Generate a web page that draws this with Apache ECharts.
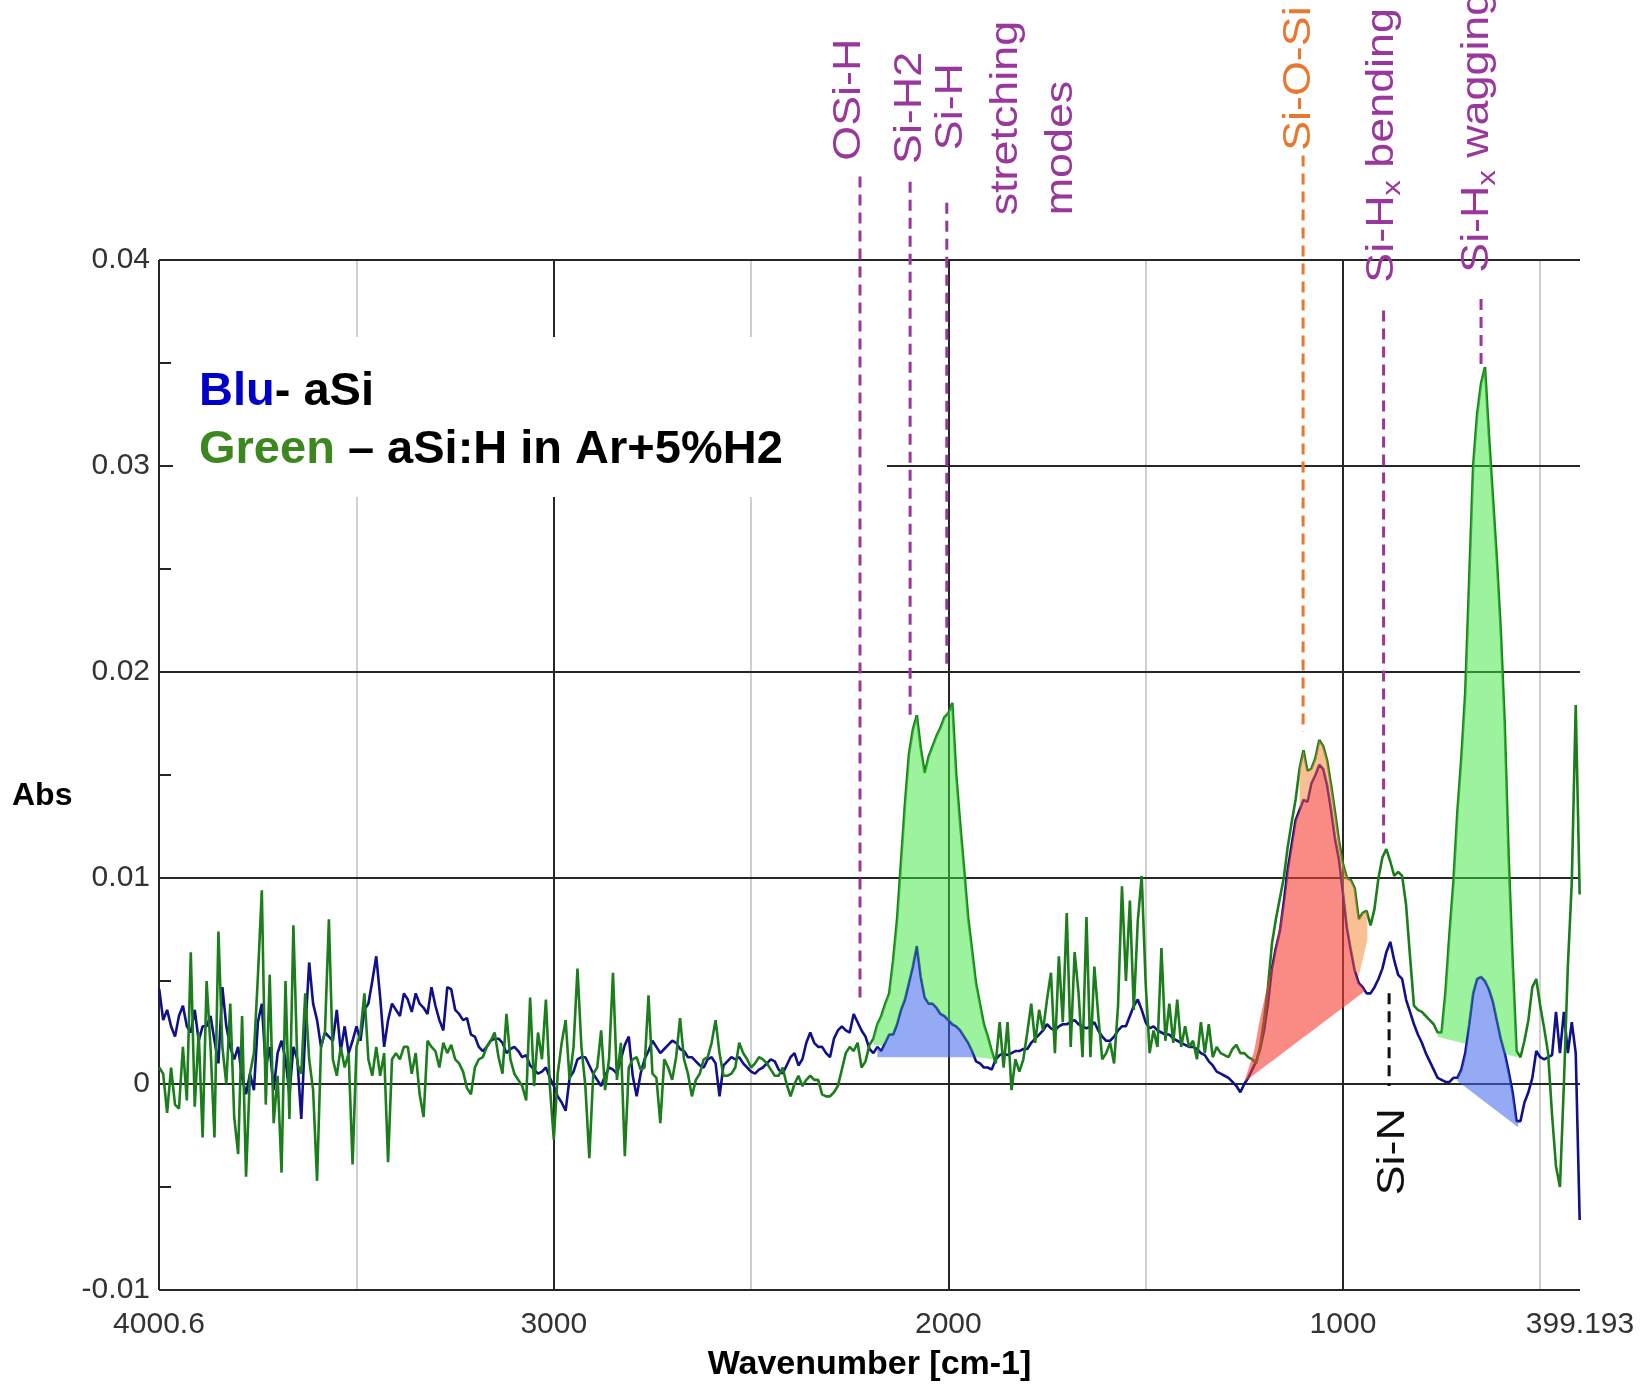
<!DOCTYPE html>
<html>
<head>
<meta charset="utf-8">
<script src="https://cdn.jsdelivr.net/npm/echarts@6/dist/echarts.min.js"></script>
<style>
  html, body { margin: 0; padding: 0; background: #fff; }
  #chart { width: 1640px; height: 1390px; }
</style>
</head>
<body>
<div id="chart"></div>
<script>
// FTIR absorbance spectra, sampled every 10 cm-1 from 4000 down to 400 cm-1.
// Values are in mAbs (1e-3 Abs).
const wnStart = 4000;
const wnStep = 10;

// aSi (blue trace)
const absBlue = [
  4.6, 3.1, 3.6, 2.8, 2.3, 3.3, 3.8, 2.8, 2.5, 3.6,
  2.1, 2.8, 2.8, 3.3, 2.1, 1.0, 4.7, 2.8, 1.8, 1.2,
  1.8, 0.3, -0.5, 0.5, -0.3, 3.0, 3.9, 0.8, 1.8, -0.3,
  1.5, 2.1, 1.2, -0.5, 1.8, 1.2, -1.7, 2.5, 5.9, 3.9,
  3.1, 1.8, 2.5, 2.3, 2.1, 3.6, 1.6, 2.8, 1.5, 2.1,
  2.8, 2.1, 3.6, 3.9, 5.0, 6.2, 4.2, 1.8, 3.1, 3.9,
  3.6, 3.3, 4.4, 4.1, 3.5, 4.4, 3.9, 3.7, 3.4, 4.7,
  3.8, 3.1, 2.6, 4.7, 4.6, 3.6, 3.4, 3.1, 3.2, 2.4,
  2.3, 1.8, 1.6, 1.8, 2.1, 2.2, 2.2, 2.0, 1.5, 1.7,
  1.8, 1.6, 1.3, 1.4, 0.9, 0.7, 0.5, 0.6, 0.8, 0.3,
  -0.1, -0.6, -0.9, -1.3, 0.3, 0.6, 1.2, 1.3, 1.3, 0.9,
  0.5, 0.2, -0.1, 0.4, 0.8, 0.7, 0.5, 1.2, 1.9, 2.3,
  0.4, -0.6, 0.5, 1.2, 1.6, 2.1, 1.8, 1.5, 1.7, 1.9,
  2.1, 2.0, 1.7, 1.6, 1.3, 1.3, 1.1, 0.9, 0.8, 1.2,
  1.3, 1.0, -0.6, 0.9, 1.1, 1.3, 1.2, 1.3, 1.0, 0.8,
  0.6, 0.5, 0.7, 0.8, 1.0, 1.2, 1.1, 0.7, 0.5, 0.9,
  1.3, 1.5, 0.9, 1.2, 2.0, 2.5, 2.0, 1.8, 1.8, 1.5,
  1.3, 2.2, 2.6, 2.8, 2.6, 2.5, 3.4, 3.0, 2.6, 2.3,
  1.7, 1.5, 1.8, 1.6, 2.0, 2.4, 2.4, 2.9, 3.6, 4.1,
  4.9, 5.7, 6.7, 5.2, 4.2, 3.9, 3.9, 3.7, 3.4, 3.3,
  3.1, 2.9, 2.8, 2.6, 2.3, 2.0, 1.6, 1.1, 1.0, 0.8,
  0.8, 0.7, 1.2, 1.4, 1.5, 1.4, 1.5, 1.6, 1.6, 1.7,
  1.7, 2.0, 2.2, 2.4, 2.6, 2.9, 2.7, 2.6, 2.8, 2.9,
  2.9, 3.0, 3.1, 2.9, 2.8, 2.7, 2.8, 3.0, 2.6, 2.3,
  2.1, 2.1, 2.3, 2.6, 2.8, 2.8, 3.3, 3.8, 4.1, 3.6,
  3.0, 2.7, 2.8, 2.6, 2.5, 2.4, 2.4, 2.2, 2.1, 2.0,
  1.9, 1.8, 1.8, 1.7, 1.5, 1.4, 1.1, 0.9, 0.6, 0.5,
  0.4, 0.3, 0.1, -0.1, -0.4, 0.0, 0.3, 0.7, 1.1, 1.7,
  2.6, 3.9, 5.6, 6.6, 7.4, 8.8, 10.4, 11.6, 12.8, 13.3,
  13.8, 13.7, 14.6, 15.0, 15.5, 15.3, 14.5, 13.3, 11.9, 10.9,
  9.3, 7.6, 6.5, 5.5, 4.9, 4.7, 4.4, 4.4, 4.7, 5.1,
  5.6, 6.4, 6.9, 6.0, 5.3, 5.1, 4.1, 3.5, 2.9, 2.4,
  2.0, 1.5, 1.1, 0.7, 0.3, 0.2, 0.1, 0.1, 0.3, 0.3,
  0.7, 1.5, 2.9, 4.4, 5.1, 5.2, 5.0, 4.6, 4.0, 3.1,
  2.2, 1.5, 0.6, -0.4, -1.8, -1.8, -0.9, -0.4, 0.3, 1.6,
  1.3, 1.2, 1.3, 1.4, 3.5, 1.5, 3.5, 1.5, 3.0, 1.5,
  -6.6
];

// aSi:H in Ar+5%H2 (green trace)
const absGreen = [
  0.8, 0.5, -1.4, 0.8, -1.0, -1.2, 1.8, -0.8, 6.4, -1.1,
  2.5, -2.6, 5.0, 1.8, -2.6, 7.4, 1.8, 0.0, 3.9, -1.6,
  -3.4, 3.3, -4.5, 0.5, 1.5, 5.2, 9.4, -1.0, 5.3, -1.9,
  0.4, -4.3, 5.0, -1.7, 7.7, 1.0, 0.5, 4.4, 1.2, -0.3,
  -4.7, 1.8, 2.5, 8.0, 1.2, 0.4, 1.8, 0.8, 1.5, -3.9,
  1.8, 2.5, 4.4, 1.2, 0.4, 1.8, 0.4, 1.5, -3.8, 1.2,
  1.5, 1.2, 1.8, 1.8, 0.5, 1.5, -0.5, -1.6, 2.1, 1.8,
  1.6, 0.8, 2.0, 1.5, 1.9, 1.2, 1.0, 0.6, -0.2, -0.5,
  0.8, 1.2, 1.3, 1.8, 2.1, 2.5, 1.3, 0.5, 3.4, 1.2,
  0.5, 0.2, -0.1, -0.8, 4.2, -0.1, 2.5, 1.2, 4.1, -0.1,
  -2.7, 0.5, 2.0, 3.1, 0.2, 1.8, 5.6, 1.8, -0.1, -3.6,
  0.5, 0.8, 2.6, -0.3, 1.2, 5.4, 0.2, 2.0, -3.5, 0.8,
  1.2, 1.3, 0.7, 0.8, 4.3, 0.5, 0.3, -1.9, 1.2, 0.8,
  0.2, 1.3, 3.2, 1.2, 0.5, -0.6, 0.2, 0.5, 1.2, 1.3,
  2.0, 3.1, 1.5, 0.4, 0.4, 0.5, 0.8, 2.0, 1.5, 1.2,
  0.8, 1.0, 1.3, 1.2, 1.0, 0.7, 0.4, 0.4, 0.8, 0.0,
  -0.6, 0.0, 0.4, -0.1, 0.2, 0.4, 0.2, 0.2, -0.5, -0.6,
  -0.6, -0.4, -0.1, 0.7, 1.5, 1.8, 1.6, 2.0, 0.8, 1.1,
  1.9, 2.2, 2.9, 3.3, 3.9, 4.4, 6.0, 8.0, 10.8, 13.6,
  16.0, 17.2, 17.9, 16.3, 15.1, 15.9, 16.4, 16.9, 17.3, 17.8,
  18.0, 18.5, 15.0, 12.6, 10.4, 8.1, 6.5, 4.9, 3.9, 2.9,
  2.3, 1.6, 1.0, 3.0, 0.8, 3.0, -0.3, 1.2, 0.6, 1.2,
  2.5, 3.9, 2.0, 3.6, 2.6, 4.1, 5.4, 1.5, 6.2, 3.0,
  8.3, 1.8, 6.4, 4.4, 1.3, 8.1, 1.3, 5.7, 3.3, 1.2,
  1.5, 2.0, 1.0, 3.8, 9.6, 5.0, 8.9, 3.6, 7.9, 10.1,
  4.9, 1.5, 2.6, 1.8, 6.6, 2.1, 3.9, 2.0, 4.1, 1.8,
  2.8, 1.8, 2.1, 1.2, 3.0, 1.5, 2.9, 1.3, 1.8, 1.5,
  1.4, 1.3, 1.7, 1.9, 1.5, 1.5, 1.3, 1.2, 1.0, 1.8,
  3.1, 4.7, 6.8, 8.0, 9.0, 10.0, 11.5, 12.7, 13.8, 15.3,
  16.2, 15.2, 15.3, 15.8, 16.7, 16.4, 15.7, 14.5, 13.2, 11.8,
  10.7, 10.0, 9.9, 9.5, 8.0, 8.3, 8.4, 7.7, 8.5, 10.0,
  11.0, 11.4, 10.8, 10.1, 10.3, 10.1, 8.7, 6.2, 3.8, 3.6,
  3.5, 3.3, 3.1, 2.9, 2.5, 2.5, 4.5, 7.3, 9.8, 13.2,
  15.8, 19.0, 24.5, 30.0, 32.5, 34.0, 34.8, 31.5, 28.5, 25.5,
  22.0, 17.5, 11.0, 6.0, 1.6, 1.3, 2.1, 3.1, 4.7, 5.1,
  3.8, 2.7, 1.5, -1.5, -4.0, -5.0, 0.0, 5.7, 9.8, 18.4,
  9.2
];

// Axis extents and tick labels
const xRange = [399.193, 4000.6];
const xTickLabels = [4000.6, 3000, 2000, 1000, 399.193];
const yRange = [-0.01, 0.04];
const yStep = 0.005;
const gridMajorX = [3000, 2000, 1000];
const gridMinorX = [3500, 2500, 1500, 500];
const gridMajorY = [0, 0.01, 0.02, 0.03];
const gridMinorY = [-0.005, 0.005, 0.015, 0.025, 0.035];

// Integrated band areas (wavenumber limits, straight baselines in mAbs)
const FILL_GREEN = 'rgba(60,230,60,0.5)';
const FILL_BLUE = 'rgba(60,100,235,0.55)';
const FILL_RED = 'rgba(245,60,50,0.6)';
const FILL_ORANGE = 'rgba(245,140,60,0.55)';
const bands = [
  { top: 'green', from: 2190, to: 1885, floor: [[2190, 1.9], [1885, 1.2]], over: true, color: FILL_GREEN },
  { top: 'blue', from: 2180, to: 1932, floor: [[2180, 1.3], [1932, 1.3]], color: FILL_BLUE },
  { top: 'blue', from: 1250, to: 945, floor: [[1250, 0.1], [945, 4.5]],
    lead: [[1250, 0.1], [1225, 1.6], [1211, 3.1], [1177, 6.0], [1152, 8.6]], color: FILL_RED },
  { top: 'green', from: 1110, to: 938, floor: [[1000, 2.0], [938, 7.0]], over: true, color: FILL_ORANGE },
  { top: 'green', from: 760, to: 558, floor: [[760, 2.3], [558, 1.3]], over: true, color: FILL_GREEN },
  { top: 'blue', from: 710, to: 556, floor: [[710, 0.15], [556, -2.1]], color: FILL_BLUE }
];

// Peak-assignment marker lines (wavenumber, top and bottom in mAbs)
const PURPLE = '#9a379c';
const ORANGE = '#e8782f';
const BLACK = '#111111';
const dashWn = [2224, 2097, 2004, 1101, 897, 650, 883];
const dashTop = [44.05, 43.8, 42.78, 45.07, 37.55, 38.11, 4.4];
const dashBottom = [4.17, 17.6, 20.2, 17.1, 11.5, 34.9, -0.1];
const dashColor = [PURPLE, PURPLE, PURPLE, ORANGE, PURPLE, PURPLE, BLACK];

// Peak-assignment labels (vertical text; anchored at the end nearest the marker)
const labelText = ['OSi-H', 'Si-H2', 'Si-H', 'stretching', 'modes', 'Si-O-Si',
  'Si-H{s|x} bending', 'Si-H{s|x} wagging', 'Si-N'];
const labelWn = [2250, 2097, 1991, 1853, 1713, 1109, 899, 658, 873];
const labelEnd = [44.82, 44.66, 45.33, 42.17, 42.17, 45.3, 38.9, 39.38, -1.17];
const labelAlign = ['left', 'left', 'left', 'left', 'left', 'left', 'left', 'left', 'right'];
const labelColor = [PURPLE, PURPLE, PURPLE, PURPLE, PURPLE, ORANGE, PURPLE, PURPLE, BLACK];

const FONT = '"Liberation Sans", Arial, Helvetica, sans-serif';
const toAbs = v => v / 1000;
const wavenumbers = absBlue.map((_, i) => wnStart - i * wnStep);
const blueData = wavenumbers.map((w, i) => [w, toAbs(absBlue[i])]);
const greenData = wavenumbers.map((w, i) => [w, toAbs(absGreen[i])]);

function valueAt(arr, wn) {
  const f = (wnStart - wn) / wnStep;
  const i = Math.max(0, Math.min(arr.length - 2, Math.floor(f)));
  const t = f - i;
  return arr[i] + (arr[i + 1] - arr[i]) * t;
}
function lineAt(seg, wn) {
  const [[w0, v0], [w1, v1]] = seg;
  return v0 + (v1 - v0) * (wn - w0) / (w1 - w0);
}

function renderBand(params, api) {
  const b = bands[params.dataIndex];
  const topArr = b.top === 'blue' ? absBlue : absGreen;
  const inner = wavenumbers.filter(w => w < b.from && w > b.to);
  const pts = [];
  let startWn = b.from;
  if (b.lead) {
    b.lead.forEach(p => pts.push(p));
    startWn = b.lead[b.lead.length - 1][0];
  } else {
    pts.push([b.from, valueAt(topArr, b.from)]);
  }
  inner.filter(w => w < startWn).forEach(w => pts.push([w, valueAt(topArr, w)]));
  pts.push([b.to, valueAt(topArr, b.to)]);
  [b.to].concat(inner.slice().reverse(), [b.from]).forEach(w => {
    let v = lineAt(b.floor, w);
    if (b.over) v = Math.max(v, valueAt(absBlue, w));
    pts.push([w, v]);
  });
  return {
    type: 'polygon',
    shape: { points: pts.map(p => api.coord([p[0], toAbs(p[1])])) },
    style: { fill: b.color }
  };
}

function renderDash(params, api) {
  const i = params.dataIndex;
  const p1 = api.coord([dashWn[i], toAbs(dashTop[i])]);
  const p2 = api.coord([dashWn[i], toAbs(dashBottom[i])]);
  return {
    type: 'line',
    shape: { x1: p1[0], y1: p1[1], x2: p2[0], y2: p2[1] },
    style: { stroke: dashColor[i], lineWidth: 3, lineDash: [11, 7] }
  };
}

function renderLabel(params, api) {
  const i = params.dataIndex;
  const p = api.coord([labelWn[i], toAbs(labelEnd[i])]);
  return {
    type: 'text',
    x: p[0], y: p[1],
    rotation: Math.PI / 2,
    scaleX: 1.18, scaleY: 1,
    style: {
      text: labelText[i],
      fill: labelColor[i],
      fontSize: 38,
      fontFamily: FONT,
      lineHeight: 46,
      align: labelAlign[i],
      verticalAlign: 'middle',
      rich: {
        s: { fontSize: 26, fontFamily: FONT, fill: labelColor[i], lineHeight: 26, verticalAlign: 'bottom' }
      }
    }
  };
}

const chart = echarts.init(document.getElementById('chart'), null, { renderer: 'canvas' });

const DARK = '#262626';
const LIGHT = '#cfcfcf';
const solid = (color) => ({ color, width: 2, type: 'solid' });
const gridLines = []
  .concat(gridMinorX.map(v => ({ xAxis: v, lineStyle: solid(LIGHT) })))
  .concat(gridMinorY.map(v => ({ yAxis: v, lineStyle: solid(LIGHT) })))
  .concat(gridMajorX.map(v => ({ xAxis: v, lineStyle: solid(DARK) })))
  .concat(gridMajorY.map(v => ({ yAxis: v, lineStyle: solid(DARK) })))
  // plot frame
  .concat(yRange.map(v => ({ yAxis: v, lineStyle: solid(DARK) })))
  .concat(xRange.map(v => ({ xAxis: v, lineStyle: solid(DARK) })));

chart.setOption({
  animation: false,
  backgroundColor: '#ffffff',
  grid: {
    left: 159, right: 60, top: 260, bottom: 100,
    show: false,
    outerBoundsMode: 'none'
  },
  xAxis: {
    type: 'value',
    inverse: true,
    min: xRange[0], max: xRange[1],
    axisLine: { show: false },
    axisTick: { show: false },
    splitLine: { show: false },
    axisLabel: {
      customValues: xTickLabels,
      formatter: v => String(v),
      color: '#333', fontSize: 30, fontFamily: FONT, margin: 20
    },
    name: 'Wavenumber [cm-1]',
    nameLocation: 'middle',
    nameGap: 58,
    nameTextStyle: { color: '#000', fontSize: 34, fontWeight: 'bold', fontFamily: FONT }
  },
  yAxis: {
    type: 'value',
    min: yRange[0], max: yRange[1], interval: yStep,
    axisLine: { show: false },
    axisTick: { show: true, inside: true, length: 12, lineStyle: { color: DARK, width: 2 } },
    splitLine: { show: false },
    axisLabel: {
      color: '#333', fontSize: 30, fontFamily: FONT, margin: 9,
      formatter: v => {
        const r = Math.round(v * 100);
        if (Math.abs(v * 100 - r) > 1e-6) return '';
        return r === 0 ? '0' : (r / 100).toFixed(2);
      }
    }
  },
  graphic: {
    elements: [
      { type: 'rect', z: 2, shape: { x: 173, y: 337, width: 714, height: 160 }, style: { fill: '#ffffff' } },
      {
        type: 'text', z: 3, x: 199, y: 392,
        style: {
          text: '{b|Blu}- aSi', fill: '#000', fontSize: 47, fontWeight: 'bold', fontFamily: FONT,
          verticalAlign: 'middle',
          rich: { b: { fill: '#0000c8', fontSize: 47, fontWeight: 'bold', fontFamily: FONT } }
        }
      },
      {
        type: 'text', z: 3, x: 199, y: 450,
        style: {
          text: '{g|Green} \u2013 aSi:H in Ar+5%H2', fill: '#000', fontSize: 47, fontWeight: 'bold', fontFamily: FONT,
          verticalAlign: 'middle',
          rich: { g: { fill: '#3c871e', fontSize: 47, fontWeight: 'bold', fontFamily: FONT } }
        }
      },
      {
        type: 'text', z: 3, x: 12, y: 796,
        style: { text: 'Abs', fill: '#000', fontSize: 32, fontWeight: 'bold', fontFamily: FONT, verticalAlign: 'middle' }
      }
    ]
  },
  series: [
    {
      type: 'line', name: 'grid', data: [], z: 1, silent: true,
      markLine: {
        silent: true, z: 1, animation: false,
        symbol: ['none', 'none'],
        label: { show: false },
        emphasis: { disabled: true },
        data: gridLines
      }
    },
    {
      type: 'line', name: 'aSi', data: blueData, showSymbol: false, z: 3,
      lineStyle: { color: '#10108a', width: 2.6 }, emphasis: { disabled: true }
    },
    {
      type: 'line', name: 'aSi:H', data: greenData, showSymbol: false, z: 4,
      lineStyle: { color: '#1b7d1b', width: 2.6 }, emphasis: { disabled: true }
    },
    {
      type: 'custom', name: 'bands', z: 5, silent: true,
      data: bands.map(b => [b.from, 0]),
      renderItem: renderBand
    },
    {
      type: 'custom', name: 'markers', z: 6, silent: true, clip: false,
      data: dashWn.map((w, i) => [w, toAbs(dashBottom[i])]),
      renderItem: renderDash
    },
    {
      type: 'custom', name: 'assignments', z: 7, silent: true, clip: false,
      data: labelWn.map((w, i) => [w, toAbs(labelEnd[i])]),
      renderItem: renderLabel
    }
  ]
});
</script>
</body>
</html>
